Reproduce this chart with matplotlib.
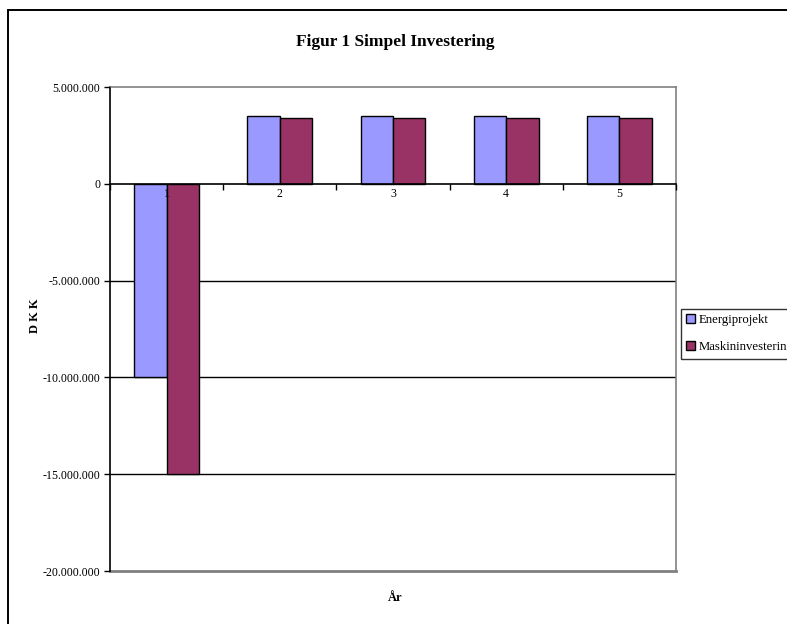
import matplotlib
matplotlib.use("Agg")
import matplotlib.pyplot as plt
from matplotlib.patches import Rectangle
from matplotlib.ticker import FuncFormatter
import numpy as np

plt.rcParams["font.family"] = ["Liberation Serif", "DejaVu Serif"]

# Data
years = ["1", "2", "3", "4", "5"]
energiprojekt = [-10_000_000, 3_500_000, 3_500_000, 3_500_000, 3_500_000]
maskininvestering = [-15_000_000, 3_400_000, 3_400_000, 3_400_000, 3_400_000]
series_names = ["Energiprojekt", "Maskininvestering"]
title = "Figur 1 Simpel Investering"
y_label = "D K K"
x_label = "År"

W, H = 787, 624
fig = plt.figure(figsize=(W / 100, H / 100), dpi=100)
fig.patch.set_facecolor("white")

# Outer chart frame (extends past the right and bottom edges)
fig.add_artist(Rectangle((8 / W, -0.2), 1.2, 1.2 - 10 / H, transform=fig.transFigure,
                         fill=False, edgecolor="black", linewidth=1.4, clip_on=False))

ax = fig.add_axes([110 / W, 1 - 571 / H, (676 - 110) / W, (571 - 87) / H])
ax.set_axisbelow(False)

x = np.arange(len(years))
bw = 1 / 3.5
c1, c2 = "#9999ff", "#993366"
ax.bar(x - bw / 2, energiprojekt, width=bw, color=c1, edgecolor="black", linewidth=1.0, zorder=2,
       label=series_names[0])
ax.bar(x + bw / 2, maskininvestering, width=bw, color=c2, edgecolor="black", linewidth=1.0, zorder=2,
       label=series_names[1])

ax.set_xlim(-0.5, len(years) - 0.5)
ax.set_ylim(-20_000_000, 5_000_000)

# Gridlines
yt = np.arange(-20_000_000, 5_000_001, 5_000_000)
for v in yt:
    if v not in (0, -20_000_000, 5_000_000):
        ax.axhline(v, color="black", linewidth=1.0, zorder=1)

ax.set_yticks(yt)
ax.yaxis.set_major_formatter(FuncFormatter(lambda v, p: f"{int(v):,}".replace(",", ".")))
ax.tick_params(axis="y", direction="out", length=4, width=1.0, labelsize=8.6, pad=3, color="black")

# Category axis sits at zero
for s in ["top", "right"]:
    ax.spines[s].set_color("#808080")
    ax.spines[s].set_linewidth(1.2)
ax.spines["left"].set_color("black")
ax.spines["left"].set_linewidth(1.2)
ax.spines["bottom"].set_position(("data", 0))
ax.spines["bottom"].set_color("black")
ax.spines["bottom"].set_linewidth(1.2)
ax.spines["bottom"].set_zorder(4)
ax.axhline(-20_000_000, color="#808080", linewidth=2.0, zorder=2, clip_on=False)

ax.set_xticks(x)
ax.set_xticklabels(years)
ax.set_xticks(np.arange(-0.5, len(years) + 0.5, 1), minor=True)
ax.tick_params(axis="x", which="major", length=0, labelsize=8.6, pad=3)
ax.tick_params(axis="x", which="minor", direction="out", length=4, width=1.0)

fig.text(395 / W, 1 - 42 / H, title, ha="center", va="center", fontsize=12.5, fontweight="bold")
fig.text(35 / W, 1 - 316 / H, y_label, ha="center", va="center", rotation=90, fontsize=9,
         fontweight="bold")
fig.text(395 / W, 1 - 598 / H, x_label, ha="center", va="center", fontsize=9, fontweight="bold")

leg = fig.legend(loc="upper left", bbox_to_anchor=(681 / W, 1 - 309 / H), frameon=True,
                 fancybox=False, edgecolor="black", fontsize=9.2, handlelength=0.7,
                 handleheight=0.7, handletextpad=0.3, borderpad=0.4, labelspacing=1.2,
                 borderaxespad=0)
leg.get_frame().set_linewidth(1.0)

fig.savefig("out.png", dpi=100, facecolor="white")
